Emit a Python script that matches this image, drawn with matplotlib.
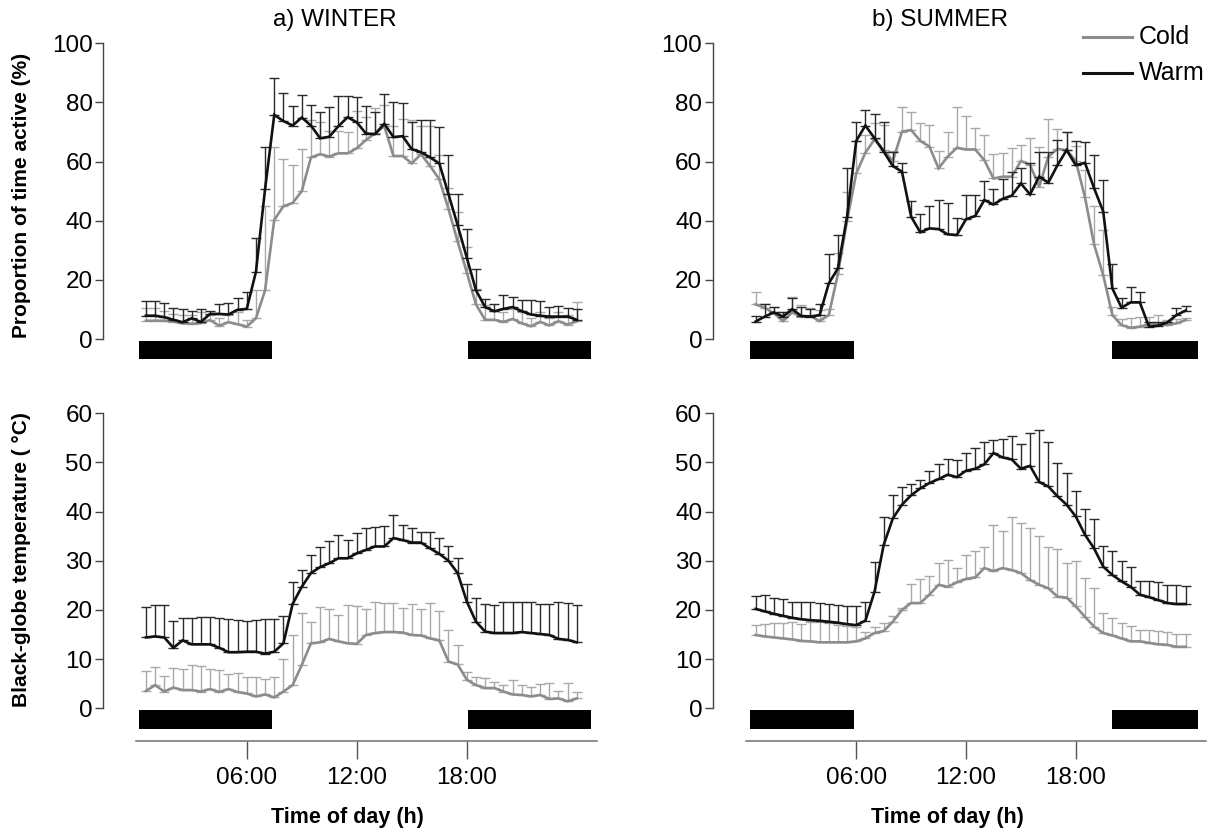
import numpy as np
import matplotlib
matplotlib.use("Agg")
import matplotlib.pyplot as plt
from matplotlib.lines import Line2D

plt.rcParams["font.family"] = ["Liberation Sans", "DejaVu Sans"]

# =========================
# Data (half-hour bins, 00:30 ... 24:00)
# =========================
hours = np.arange(0.5, 24.01, 0.5)

# Winter - proportion of time active (%): mean and top of error bar
winter_act_cold = [6.2, 6.2, 6.2, 5.9, 5.3, 5.2, 5.4, 6.4, 4.5, 5.7, 5.0, 4.2, 7.0,
                   16.5, 40.3, 44.9, 46.0, 50.0, 61.4, 62.5, 61.7, 62.8, 62.8, 64.5,
                   67.3, 69.6, 72.0, 61.9, 61.9, 59.4, 62.5, 58.5, 54.0, 44.0, 33.0,
                   22.5, 11.7, 6.5, 6.5, 5.8, 6.8, 5.3, 4.3, 5.8, 4.6, 6.0, 4.9, 6.0]
winter_act_cold_hi = [10.5, 10.5, 9.5, 8.5, 8.0, 8.0, 9.0, 8.0, 7.0, 8.0, 9.0, 6.5, 16.5,
                      45.0, 64.8, 60.8, 58.7, 64.2, 74.0, 73.5, 70.5, 70.5, 70.0, 77.0,
                      75.0, 78.0, 79.0, 72.0, 74.4, 74.0, 72.0, 72.1, 62.2, 51.1, 42.8,
                      31.2, 17.0, 11.4, 9.5, 9.0, 10.0, 9.0, 7.0, 9.0, 7.0, 9.0, 8.0, 12.5]
winter_act_warm = [7.9, 7.9, 7.4, 6.5, 5.7, 7.0, 5.8, 8.5, 8.5, 8.3, 9.9, 10.2, 22.7,
                   50.8, 75.8, 73.7, 72.2, 74.9, 72.2, 67.9, 68.4, 72.0, 75.0, 73.3,
                   69.5, 69.3, 72.8, 68.3, 68.6, 64.2, 63.2, 61.4, 59.4, 49.0, 38.5,
                   27.5, 16.5, 10.8, 9.4, 10.2, 10.8, 9.4, 8.3, 7.9, 7.6, 7.6, 7.6, 6.5]
winter_act_warm_hi = [12.8, 12.8, 12.3, 10.5, 10.0, 9.5, 10.0, 9.5, 12.0, 12.3, 14.0, 15.9, 34.1,
                      65.1, 88.2, 83.3, 78.9, 82.4, 79.3, 76.8, 78.4, 82.1, 82.2, 81.7,
                      78.9, 76.9, 83.0, 80.3, 79.9, 73.5, 74.2, 74.2, 71.6, 62.3, 49.2,
                      37.2, 23.6, 13.6, 11.9, 15.0, 14.2, 13.3, 13.1, 13.0, 10.8, 11.3, 10.5, 10.2]

# Summer - proportion of time active (%)
summer_act_cold = [11.7, 10.6, 8.7, 6.1, 9.0, 7.6, 7.8, 6.1, 8.1, 22.0, 40.0, 56.0, 63.0,
                   67.5, 63.9, 60.2, 70.1, 70.7, 67.0, 65.1, 57.7, 61.7, 64.7, 64.1,
                   64.1, 60.5, 54.3, 54.9, 54.9, 60.2, 58.9, 51.5, 61.7, 64.3, 63.9,
                   60.2, 48.0, 32.0, 21.6, 8.1, 4.7, 3.8, 4.2, 5.0, 5.3, 4.7, 5.3, 6.4]
summer_act_cold_hi = [15.8, 11.7, 10.9, 9.0, 14.3, 11.5, 10.6, 9.8, 10.1, 29.0, 49.8, 67.0, 69.0,
                      72.9, 72.4, 63.6, 78.6, 76.7, 72.9, 72.4, 63.6, 69.9, 78.6, 75.5,
                      71.2, 69.0, 62.5, 62.8, 64.5, 65.6, 67.9, 65.1, 74.4, 71.0, 70.1,
                      65.4, 57.0, 45.0, 37.0, 11.0, 6.8, 7.2, 7.6, 7.6, 8.1, 6.4, 6.8, 7.2]
summer_act_warm = [5.9, 7.6, 9.0, 7.6, 10.1, 7.8, 7.6, 8.1, 18.8, 23.9, 41.4, 67.0, 72.2,
                   67.9, 63.4, 58.5, 56.6, 41.4, 36.1, 37.4, 37.2, 35.4, 35.2, 40.5,
                   41.6, 47.0, 45.5, 47.4, 48.5, 52.6, 48.9, 54.9, 52.9, 58.8, 63.9,
                   58.8, 59.6, 51.0, 43.1, 17.1, 10.6, 12.4, 12.4, 4.2, 4.5, 5.6, 8.1, 9.6]
summer_act_warm_hi = [7.8, 11.7, 10.9, 9.0, 13.8, 10.9, 10.1, 11.7, 28.6, 35.2, 57.9, 73.5, 77.5,
                      76.1, 73.5, 63.4, 59.4, 46.7, 42.2, 45.1, 47.0, 45.9, 40.8, 48.7,
                      48.7, 53.6, 50.7, 54.1, 56.6, 57.7, 59.4, 63.4, 63.1, 67.3, 69.9,
                      67.0, 66.5, 62.2, 53.8, 25.5, 13.8, 17.7, 15.8, 5.6, 5.6, 5.9, 10.6, 11.3]

# Winter - black-globe temperature (C)
winter_tmp_cold = [3.5, 4.7, 3.4, 4.2, 3.7, 3.7, 3.4, 3.9, 3.3, 3.9, 3.3, 3.0, 2.4,
                   2.8, 2.2, 3.4, 4.7, 8.8, 13.2, 13.4, 14.1, 13.6, 13.2, 13.1,
                   14.9, 15.3, 15.5, 15.5, 15.4, 14.9, 14.8, 14.2, 13.8, 9.5, 8.9,
                   5.8, 4.7, 4.1, 4.1, 3.4, 2.8, 2.7, 2.4, 2.7, 1.9, 2.0, 1.4, 2.0]
winter_tmp_cold_hi = [7.5, 8.3, 6.6, 8.1, 7.9, 8.8, 8.5, 7.9, 7.8, 6.9, 7.1, 6.4, 6.4,
                      6.0, 6.4, 10.0, 14.9, 19.3, 17.6, 20.5, 20.2, 19.0, 20.9, 20.7,
                      20.2, 21.6, 21.4, 21.5, 20.3, 21.2, 20.1, 21.4, 19.7, 15.9, 12.9,
                      7.3, 6.4, 6.1, 5.4, 4.7, 5.8, 4.7, 4.4, 4.9, 5.1, 3.5, 5.1, 3.4]
winter_tmp_warm = [14.4, 14.6, 14.4, 12.3, 13.8, 13.0, 13.0, 13.0, 12.3, 11.4, 11.4, 11.5, 11.5,
                   11.1, 11.5, 13.2, 21.2, 24.7, 27.5, 28.7, 29.5, 30.5, 30.5, 31.5,
                   32.2, 32.9, 32.9, 34.6, 34.2, 33.7, 33.7, 32.5, 31.4, 30.0, 27.5,
                   21.7, 17.6, 15.6, 15.3, 15.3, 15.3, 15.5, 15.3, 15.1, 14.9, 14.1, 13.9, 13.4]
winter_tmp_warm_hi = [20.5, 20.9, 20.9, 17.8, 18.4, 18.3, 18.5, 18.6, 18.3, 18.2, 18.0, 17.8, 18.0,
                      18.2, 18.2, 18.8, 25.6, 28.1, 31.1, 32.7, 34.0, 35.3, 34.2, 35.6,
                      36.7, 36.9, 37.0, 39.3, 37.3, 36.6, 35.9, 35.9, 34.7, 33.0, 30.5,
                      25.3, 22.5, 21.2, 21.0, 21.7, 21.7, 21.7, 21.7, 21.2, 21.2, 21.6, 21.4, 21.0]

# Summer - black-globe temperature (C)
summer_tmp_cold = [14.9, 14.6, 14.4, 14.2, 14.0, 13.7, 13.6, 13.4, 13.4, 13.4, 13.4, 13.6, 14.2,
                   15.3, 15.7, 17.6, 20.0, 21.4, 21.4, 23.1, 25.1, 24.7, 25.6, 26.3,
                   26.6, 28.5, 27.9, 28.5, 28.1, 27.5, 26.1, 25.1, 24.4, 22.7, 22.5,
                   20.7, 18.6, 16.6, 15.3, 14.8, 14.2, 13.6, 13.6, 13.3, 13.0, 12.9, 12.5, 12.5]
summer_tmp_cold_hi = [16.9, 17.2, 17.3, 17.4, 17.6, 17.1, 17.6, 17.5, 17.3, 16.9, 16.8, 16.5, 15.6,
                      16.6, 17.3, 18.8, 20.3, 25.2, 26.3, 26.8, 29.5, 30.2, 28.5, 31.2,
                      31.9, 32.7, 37.2, 36.1, 38.8, 37.6, 36.7, 35.1, 32.7, 32.4, 29.6,
                      30.0, 26.4, 24.5, 19.4, 18.3, 17.3, 16.7, 15.9, 15.9, 15.7, 15.5, 15.1, 15.1]
summer_tmp_warm = [20.2, 19.7, 19.2, 18.8, 18.4, 18.1, 17.9, 17.8, 17.6, 17.4, 17.1, 16.9, 17.8,
                   23.7, 33.2, 38.6, 41.4, 43.3, 44.7, 45.8, 46.6, 47.5, 47.0, 48.3,
                   48.7, 49.6, 51.9, 51.0, 50.6, 48.7, 49.3, 46.0, 45.1, 43.1, 41.4,
                   39.0, 35.3, 32.5, 28.8, 27.1, 25.8, 24.7, 23.1, 22.6, 22.0, 21.4, 21.2, 21.2]
summer_tmp_warm_hi = [22.9, 23.1, 22.5, 22.2, 21.7, 21.6, 21.6, 21.4, 21.2, 21.0, 20.7, 20.7, 21.6,
                      29.8, 38.8, 43.3, 44.9, 45.6, 46.4, 48.3, 49.6, 50.7, 50.5, 51.9,
                      52.9, 54.2, 54.6, 54.8, 55.3, 53.7, 55.9, 56.6, 54.1, 49.8, 47.8,
                      44.2, 40.5, 38.4, 33.0, 31.9, 30.0, 28.8, 25.9, 25.8, 25.6, 25.1, 25.1, 24.9]

# night periods (h)
winter_night = [(0.1, 7.4), (18.05, 24.8)]
summer_night = [(0.2, 5.9), (20.0, 24.7)]

tick_hours = [6, 12, 18]
tick_labels = ["06:00", "12:00", "18:00"]

# =========================
# Style
# =========================
W, H = 1220, 834
COLD_LINE = "#8c8c8c"
COLD_ERR = "#a9a9a9"
WARM_LINE = "#111111"
WARM_ERR = "#2a2a2a"
SPINE = "#444444"
FS_TICK = 17.5
FS_LABEL = 15


def draw_series(ax, mean, hi, line_c, err_c, z):
    mean = np.asarray(mean)
    up = np.clip(np.asarray(hi) - mean, 0, None)
    ax.errorbar(hours, mean, yerr=[np.zeros_like(mean), up], fmt="none",
                ecolor=err_c, elinewidth=1.0, capsize=3.3, capthick=1.0, zorder=z)
    ax.plot(hours, mean, color=line_c, lw=1.9, zorder=z + 1,
            solid_joinstyle="miter")


def style_axes(ax, ymax, ystep, bottom_axis):
    for s in ["top", "right"]:
        ax.spines[s].set_visible(False)
    ax.spines["left"].set_position(("outward", 23.5))
    ax.spines["left"].set_bounds(0, ymax)
    ax.spines["left"].set_color(SPINE)
    ax.spines["left"].set_linewidth(1.0)
    ax.set_yticks(np.arange(0, ymax + 1, ystep))
    ax.tick_params(axis="y", direction="out", length=5.8, width=1.0,
                   color=SPINE, labelsize=FS_TICK, pad=2)
    ax.set_xlim(-0.04, 25.1)
    if bottom_axis:
        ax.spines["bottom"].set_color("#707070")
        ax.spines["bottom"].set_linewidth(1.1)
        ax.set_xticks(tick_hours)
        ax.set_xticklabels(tick_labels)
        ax.tick_params(axis="x", direction="out", length=12.7, width=1.0,
                       color="#555555", labelsize=FS_TICK, pad=6)
    else:
        ax.spines["bottom"].set_visible(False)
        ax.set_xticks([])


def night_bars(ax, night, y0, y1):
    ax.broken_barh([(a, b - a) for a, b in night], (y0, y1 - y0),
                   facecolors="black", zorder=5)


fig = plt.figure(figsize=(W / 100, H / 100), dpi=100)

top_rect_y = 1 - 362.7 / H
top_h = 325.3 / H
bot_rect_y = 1 - 740.7 / H
bot_h = 332.4 / H

ax_wa = fig.add_axes([136 / W, top_rect_y, 461 / W, top_h])
ax_sa = fig.add_axes([745.7 / W, top_rect_y, 460 / W, top_h])
ax_wt = fig.add_axes([136 / W, bot_rect_y, 461 / W, bot_h])
ax_st = fig.add_axes([745.7 / W, bot_rect_y, 460 / W, bot_h])

panels = [
    (ax_wa, winter_act_cold, winter_act_cold_hi, winter_act_warm, winter_act_warm_hi, winter_night, False),
    (ax_sa, summer_act_cold, summer_act_cold_hi, summer_act_warm, summer_act_warm_hi, summer_night, False),
    (ax_wt, winter_tmp_cold, winter_tmp_cold_hi, winter_tmp_warm, winter_tmp_warm_hi, winter_night, True),
    (ax_st, summer_tmp_cold, summer_tmp_cold_hi, summer_tmp_warm, summer_tmp_warm_hi, summer_night, True),
]

for ax, c, c_hi, w, w_hi, night, is_temp in panels:
    draw_series(ax, c, c_hi, COLD_LINE, COLD_ERR, 2)
    draw_series(ax, w, w_hi, WARM_LINE, WARM_ERR, 3)
    if is_temp:
        ax.set_ylim(-6.6, 61)
        style_axes(ax, 60, 10, True)
        night_bars(ax, night, -4.15, -0.45)
    else:
        ax.set_ylim(-8, 102)
        style_axes(ax, 100, 20, False)
        night_bars(ax, night, -6.6, -0.5)

# titles
fig.text(335 / W, 1 - 20 / H, "a) WINTER", ha="center", va="center", fontsize=17.5)
fig.text(940 / W, 1 - 20 / H, "b) SUMMER", ha="center", va="center", fontsize=17.5)

# axis labels
fig.text(22 / W, 1 - 195 / H, "Proportion of time active (%)", rotation=90,
         ha="center", va="center", fontsize=FS_LABEL, fontweight="bold")
fig.text(22 / W, 1 - 560 / H, "Black-globe temperature ( \u00b0C)", rotation=90,
         ha="center", va="center", fontsize=FS_LABEL, fontweight="bold")
fig.text(347 / W, 1 - 817 / H, "Time of day (h)", ha="center", va="center",
         fontsize=15.5, fontweight="bold")
fig.text(947 / W, 1 - 817 / H, "Time of day (h)", ha="center", va="center",
         fontsize=15.5, fontweight="bold")

# legend
for y, col, lab in [(37, COLD_LINE, "Cold"), (73, WARM_LINE, "Warm")]:
    fig.add_artist(Line2D([1083 / W, 1132 / W], [1 - y / H, 1 - y / H],
                          color=col, lw=2.2, transform=fig.transFigure))
    fig.text(1139 / W, 1 - y / H, lab, ha="left", va="center", fontsize=18)

fig.savefig("out.png", dpi=100)
